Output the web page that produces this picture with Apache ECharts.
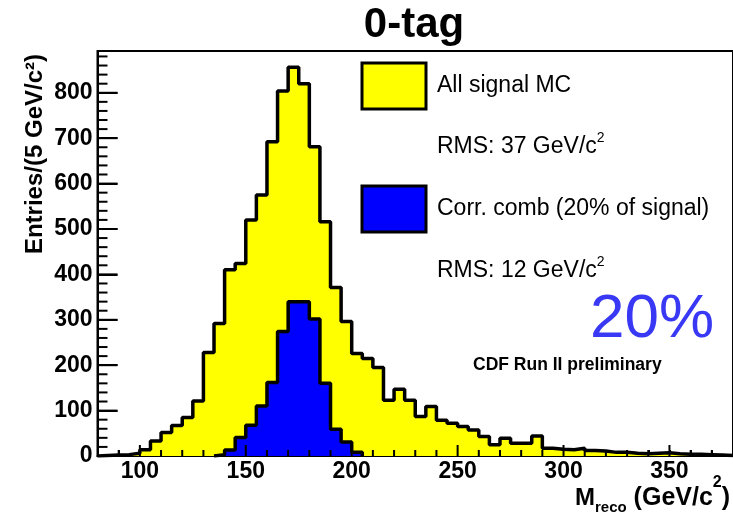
<!DOCTYPE html>
<html>
<head>
<meta charset="utf-8">
<script src="https://cdn.jsdelivr.net/npm/echarts@6/dist/echarts.min.js"></script>
<style>
  html, body { margin: 0; padding: 0; background: #ffffff; }
  #chart { width: 733px; height: 515px; }
</style>
</head>
<body>
<div id="chart"></div>
<script>
// Reconstructed top-mass distribution, 5 GeV/c^2 bins, lower bin edges
const binWidth = 5;
const binLow = [
  80, 85, 90, 95, 100, 105, 110, 115, 120, 125,
  130, 135, 140, 145, 150, 155, 160, 165, 170, 175,
  180, 185, 190, 195, 200, 205, 210, 215, 220, 225,
  230, 235, 240, 245, 250, 255, 260, 265, 270, 275,
  280, 285, 290, 295, 300, 305, 310, 315, 320, 325,
  330, 335, 340, 345, 350, 355, 360, 365, 370, 375
];
// All signal MC
const allSignal = [
  1, 2, 3, 6, 14, 33, 52, 67, 85, 121,
  228, 292, 410, 424, 520, 575, 692, 804, 856, 820,
  681, 516, 371, 296, 226, 215, 195, 123, 147, 123,
  87, 109, 79, 72, 65, 57, 43, 25, 39, 28,
  28, 44, 17, 15, 14, 17, 12, 11, 8, 8,
  6, 5, 6, 7, 5, 4, 4, 3, 2, 1
];
// Correct combination subset, starting at 135 GeV/c^2
const corrBinLow = [135, 140, 145, 150, 155, 160, 165, 170, 175, 180, 185, 190, 195, 200];
const corrComb   = [3, 13, 41, 68, 110, 162, 274, 340, 340, 302, 160, 59, 31, 8];

// Axis ticks and labels
const xMajorTicks = [100, 150, 200, 250, 300, 350];
const yMajorTicks = [0, 100, 200, 300, 400, 500, 600, 700, 800];
const xRange = [80, 380];
const yRange = [0, 892];

const FONT = '"Liberation Sans", Arial, Helvetica, sans-serif';

function histData(lows, counts) {
  const pts = [[lows[0], 0]];
  lows.forEach((x, i) => pts.push([x, counts[i]]));
  pts.push([lows[lows.length - 1] + binWidth, 0]);
  return pts;
}

function steps(from, to, step) {
  const out = [];
  for (let v = from; v <= to + 1e-9; v += step) out.push(v);
  return out;
}

// tick marks drawn over the histograms: [value, 0 = x axis / 1 = y axis, length]
const tickMarks = [].concat(
  steps(90, 370, 10).map(v => [v, 0, xMajorTicks.indexOf(v) >= 0 ? 11 : 6]),
  steps(0, 880, 20).map(v => [v, 1, yMajorTicks.indexOf(v) >= 0 ? 20 : 10])
);

// text helpers: position by alphabetic baseline
const mctx = document.createElement('canvas').getContext('2d');
function measure(str, size, weight) {
  mctx.font = (weight || 'normal') + ' ' + size + 'px ' + FONT;
  return mctx.measureText(str).width;
}
function txt(x, base, str, size, weight, color, align) {
  return {
    type: 'text', x: x, y: base - 0.3465 * size, silent: true,
    style: {
      text: str, fontSize: size, fontWeight: weight || 'normal', fontFamily: FONT,
      fill: color || '#000', align: align || 'left', verticalAlign: 'middle'
    }
  };
}
function row(x, base, parts) {
  const els = [];
  let cx = x;
  parts.forEach(p => {
    els.push(txt(cx, base + (p.dy || 0), p.t, p.size, p.weight, p.color));
    cx += measure(p.t, p.size, p.weight);
  });
  return els;
}

const chart = echarts.init(document.getElementById('chart'), null, { renderer: 'canvas' });

const texts = [].concat(
  [txt(414, 40, '0-tag', 42, 'bold', '#000', 'center')],
  [{ type: 'rect', shape: { x: 362, y: 63, width: 64, height: 46 },
     style: { fill: '#ffff00', stroke: '#000', lineWidth: 3 } }],
  [{ type: 'rect', shape: { x: 362, y: 186, width: 64, height: 46 },
     style: { fill: '#0000ff', stroke: '#000', lineWidth: 3 } }],
  [txt(437, 93.3, 'All signal MC', 23)],
  row(437, 155, [{ t: 'RMS: 37 GeV/c', size: 23 }, { t: '2', size: 14, dy: -11.7 }]),
  [txt(437, 216.7, 'Corr. comb (20% of signal)', 23)],
  row(437, 278.3, [{ t: 'RMS: 12 GeV/c', size: 23 }, { t: '2', size: 14, dy: -11.7 }]),
  [txt(590, 341, '20%', 62, 'normal', '#3838f5')],
  [txt(473, 371.5, 'CDF Run II preliminary', 17.5, 'bold')],
  row(575, 506.7, [
    { t: 'M', size: 24, weight: 'bold' },
    { t: 'reco', size: 15, weight: 'bold', dy: 6.6 },
    { t: ' (GeV/c', size: 25, weight: 'bold' },
    { t: '2', size: 16, weight: 'bold', dy: -18.7 },
    { t: ')', size: 25, weight: 'bold' }
  ]),
  [{
    type: 'text', x: 35, y: 54, rotation: Math.PI / 2, silent: true,
    style: {
      text: 'Entries/(5 GeV/c\u00B2)', fontSize: 24, fontWeight: 'bold', fontFamily: FONT,
      fill: '#000', align: 'right', verticalAlign: 'middle'
    }
  }]
);

chart.setOption({
  animation: false,
  backgroundColor: '#ffffff',
  grid: {
    left: 97.5, right: -0.5, top: 51, bottom: 59,
    show: true, borderColor: '#000', borderWidth: 2
  },
  xAxis: {
    type: 'value', min: xRange[0], max: xRange[1], interval: 10,
    splitLine: { show: false },
    axisLine: { show: true, onZero: false, lineStyle: { color: '#000', width: 2 } },
    axisTick: { show: true, inside: true, length: 6, lineStyle: { color: '#000', width: 2 } },
    axisLabel: {
      show: true, margin: 4, showMinLabel: false, showMaxLabel: false,
      formatter: v => (xMajorTicks.indexOf(v) >= 0 ? String(v) : ''),
      color: '#000', fontSize: 23, fontWeight: 'bold', fontFamily: FONT
    }
  },
  yAxis: {
    type: 'value', min: yRange[0], max: yRange[1], interval: 100,
    splitLine: { show: false },
    axisLine: { show: true, onZero: false, lineStyle: { color: '#000', width: 2 } },
    axisTick: { show: true, inside: true, length: 20, lineStyle: { color: '#000', width: 2 } },
    axisLabel: {
      show: true, margin: 5, showMaxLabel: false,
      color: '#000', fontSize: 23, fontWeight: 'bold', fontFamily: FONT
    }
  },
  series: [
    {
      name: 'All signal MC', type: 'line', step: 'end',
      data: histData(binLow, allSignal),
      showSymbol: false, symbol: 'none',
      lineStyle: { color: '#000', width: 3.5 },
      areaStyle: { color: '#ffff00', opacity: 1, origin: 'start' }
    },
    {
      name: 'Corr. comb (20% of signal)', type: 'line', step: 'end',
      data: histData(corrBinLow, corrComb),
      showSymbol: false, symbol: 'none',
      lineStyle: { color: '#000', width: 3.5 },
      areaStyle: { color: '#0000ff', opacity: 1, origin: 'start' }
    }
  ]
});

// tick marks as filled bars placed through the grid's coordinate conversion, above the fills
const tickEls = [];
tickMarks.forEach(([v, axis, len]) => {
  if (axis === 0) {
    const p = chart.convertToPixel({ gridIndex: 0 }, [v, yRange[0]]);
    if (!p) return;
    tickEls.push({ type: 'rect', silent: true, z: 100,
      shape: { x: p[0] - 1, y: p[1] - len, width: 2, height: len },
      style: { fill: '#000' } });
  } else {
    const p = chart.convertToPixel({ gridIndex: 0 }, [xRange[0], v]);
    if (!p) return;
    tickEls.push({ type: 'rect', silent: true, z: 100,
      shape: { x: p[0], y: p[1] - 1, width: len, height: 2 },
      style: { fill: '#000' } });
  }
});

chart.setOption({ graphic: { elements: texts.concat(tickEls) } });
</script>
</body>
</html>
